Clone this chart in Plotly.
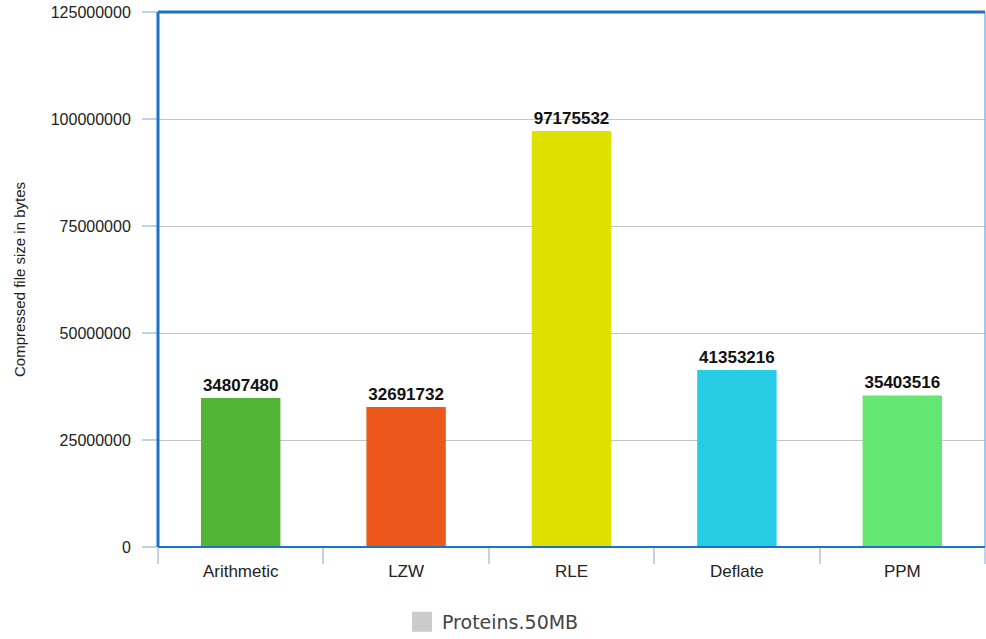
import plotly.graph_objects as go

# Compression results for the Proteins.50MB corpus
algorithms = ["Arithmetic", "LZW", "RLE", "Deflate", "PPM"]
compressed_bytes = [34807480, 32691732, 97175532, 41353216, 35403516]
bar_colors = ["#52b435", "#ec571c", "#dee000", "#26cce4", "#64e673"]
y_ticks = [0, 25000000, 50000000, 75000000, 100000000, 125000000]
dataset_name = "Proteins.50MB"

base_font = "Liberation Sans, Arial, sans-serif"

fig = go.Figure()

fig.add_trace(go.Bar(
    x=algorithms,
    y=compressed_bytes,
    marker=dict(color=bar_colors, line=dict(width=0)),
    width=0.48,
    text=[str(v) for v in compressed_bytes],
    textposition="outside",
    textfont=dict(family=base_font, size=17, color="#111111", weight="bold"),
    cliponaxis=False,
    showlegend=False,
    hoverinfo="x+y",
))

# legend entry for the dataset
fig.add_trace(go.Scatter(
    x=[None], y=[None],
    mode="markers",
    marker=dict(symbol="square", size=16, color="#cccccc",
                line=dict(color="#cccccc", width=4)),
    name=dataset_name,
    showlegend=True,
))

axis_blue = "#1a73c4"
tick_blue = "#c3d2e3"

fig.update_layout(
    width=986,
    height=639,
    margin=dict(l=158, r=1, t=12, b=92),
    plot_bgcolor="white",
    paper_bgcolor="white",
    font=dict(family=base_font, size=16, color="#222222"),
    legend=dict(
        orientation="h",
        xref="container", yref="container",
        x=0.5, xanchor="center",
        y=1 - 622 / 639, yanchor="middle",
        font=dict(family="DejaVu Sans, sans-serif", size=19, color="#444444"),
        itemsizing="trace",
    ),
    xaxis=dict(
        type="category",
        tickson="boundaries",
        ticks="outside",
        ticklen=16,
        tickwidth=2,
        tickcolor=tick_blue,
        ticklabelstandoff=12,
        showgrid=False,
        showline=False,
        zeroline=False,
        tickfont=dict(size=17, color="#222222"),
    ),
    yaxis=dict(
        range=[0, 125000000],
        tickvals=y_ticks,
        ticktext=[str(v) for v in y_ticks],
        ticks="outside",
        ticklen=15,
        tickwidth=2,
        tickcolor=tick_blue,
        ticklabelstandoff=8,
        showgrid=True,
        gridcolor="#c4c4c4",
        gridwidth=1,
        zeroline=False,
        showline=False,
        tickfont=dict(size=16, color="#222222"),
        title=dict(text="Compressed file size in bytes",
                   font=dict(size=15, color="#222222"), standoff=21),
    ),
    shapes=[
        dict(type="line", xref="paper", yref="paper", x0=0, x1=0, y0=0, y1=1,
             line=dict(color=axis_blue, width=3)),
        dict(type="line", xref="paper", yref="paper", x0=0, x1=1, y0=1, y1=1,
             line=dict(color=axis_blue, width=3)),
        dict(type="line", xref="paper", yref="paper", x0=1, x1=1, y0=0, y1=1,
             line=dict(color="#4a90d0", width=1)),
        dict(type="line", xref="paper", yref="paper", x0=0, x1=1, y0=0, y1=0,
             line=dict(color=axis_blue, width=2)),
    ],
)

fig.write_html("out.html")
